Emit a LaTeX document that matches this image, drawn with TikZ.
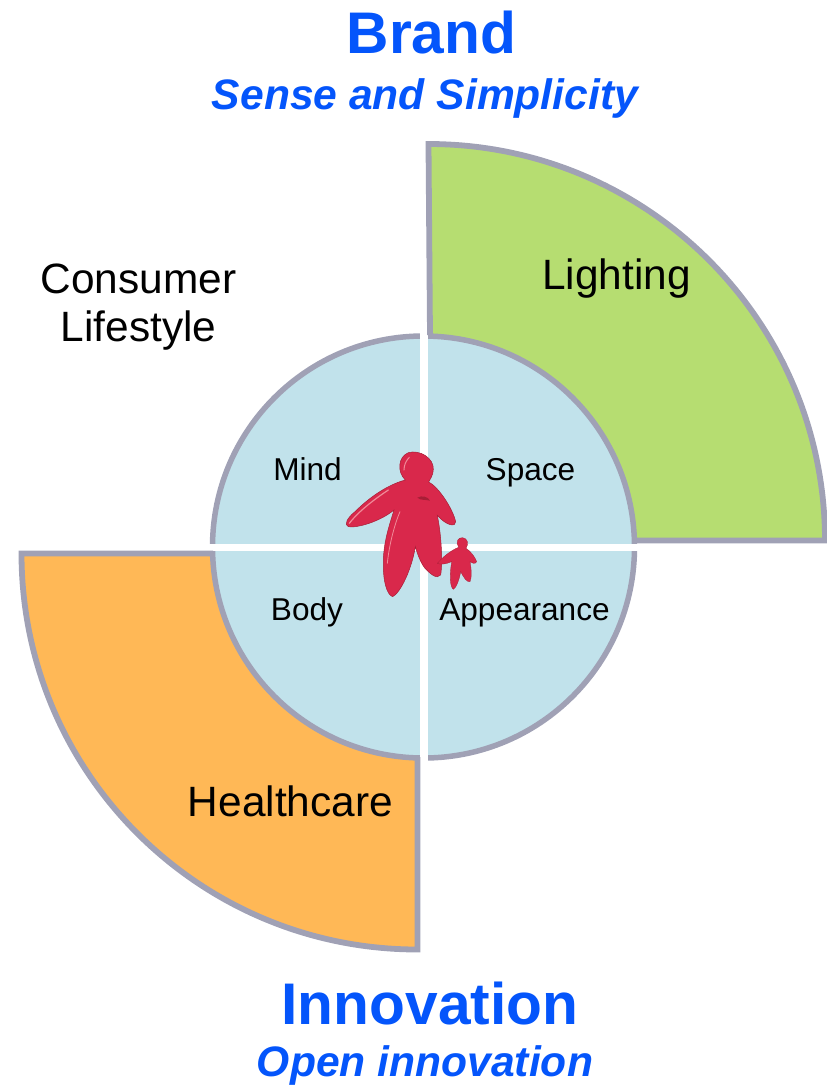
\documentclass[tikz,border=0pt]{standalone}
\usepackage{fontspec}
\setmainfont{Liberation Sans}
\definecolor{edgegrey}{HTML}{A0A1B5}
\definecolor{leafgreen}{HTML}{B6DD71}
\definecolor{warmorange}{HTML}{FFB856}
\definecolor{paleblue}{HTML}{C1E2EB}
\definecolor{titleblue}{HTML}{0455FB}
\definecolor{figred}{HTML}{D9284B}
\definecolor{figdark}{HTML}{A81E36}
\definecolor{figlight}{HTML}{F08A98}
\tikzset{
  sectoredge/.style={draw=edgegrey,line width=5.8pt,line join=miter},
  title/.style={anchor=base,text=titleblue,font=\bfseries\fontsize{58.7}{58}\selectfont},
  subtitle/.style={anchor=base,text=titleblue,font=\bfseries\itshape\fontsize{42.6}{42}\selectfont},
  biglabel/.style={anchor=base,align=center,font=\fontsize{42.4}{50}\selectfont},
  smalllabel/.style={anchor=base,font=\fontsize{31.6}{36}\selectfont},
}
\begin{document}
\begin{tikzpicture}[x=1pt,y=-1pt]
\useasboundingbox (0,0) rectangle (827,1085);
% sector fills (their inner parts are hidden by the disc)
\fill[leafgreen] (430,540.5) -- (428.5,144) arc[start angle=270,end angle=360,radius=396.5] -- cycle;
\fill[warmorange] (417.5,553.5) -- (417.5,949.5) arc[start angle=90,end angle=180,radius=396] -- cycle;
% central disc
\fill[paleblue] (423.5,547) circle[radius=212];
\draw[edgegrey,line width=5.5pt] (423.5,547) circle[radius=211];
% white cross
\fill[white] (205,543.5) rectangle (645,550.5);
\fill[white] (420,325) rectangle (427.5,770);
% sector outlines
\draw[sectoredge] (430,335) -- (428.5,144) arc[start angle=270,end angle=360,radius=396.5] -- (634,540.5);
\draw[sectoredge] (213,553.5) -- (21.5,553.5) arc[start angle=180,end angle=90,radius=396] -- (417.5,757);
% figures
\begin{scope}[shift={(330,430)},x=0.3333pt,y=-0.3333pt]
\fill[figred,draw=figdark,line width=0.5pt]
  (226,150) .. controls (200,125) and (205,80) .. (235,68)
  .. controls (270,58) and (312,85) .. (310,118)
  .. controls (310,135) and (300,148) .. (296,156)
  .. controls (325,170) and (368,235) .. (377,275)
  .. controls (378,292) and (350,288) .. (322,256)
  .. controls (335,320) and (338,400) .. (332,435)
  .. controls (320,450) and (300,430) .. (285,415)
  .. controls (270,395) and (262,370) .. (256,350)
  .. controls (245,420) and (210,490) .. (188,500)
  .. controls (170,495) and (158,450) .. (160,390)
  .. controls (162,330) and (180,280) .. (192,240)
  .. controls (150,275) and (80,295) .. (55,290)
  .. controls (42,285) and (50,265) .. (75,245)
  .. controls (115,205) and (170,165) .. (226,150) -- cycle;
\fill[figdark] (262,203) .. controls (275,195) and (295,200) .. (300,212)
  .. controls (285,208) and (272,212) .. (262,203) -- cycle;
\draw[figlight,line width=1pt,line cap=round] (222,120) .. controls (222,105) and (228,92) .. (238,82);
\draw[figlight,line width=1.2pt,line cap=round] (58,280) .. controls (85,245) and (130,210) .. (175,180);
\draw[figlight,line width=0.8pt,line cap=round] (172,400) .. controls (178,340) and (195,280) .. (210,245);
\fill[figred,draw=figdark,line width=0.3pt]
  (386,352) .. controls (375,335) and (385,322) .. (398,323)
  .. controls (412,325) and (418,340) .. (408,355)
  .. controls (420,362) and (435,380) .. (440,395)
  .. controls (435,405) and (425,398) .. (420,395)
  .. controls (425,420) and (425,445) .. (420,455)
  .. controls (410,458) and (400,440) .. (392,425)
  .. controls (388,450) and (378,475) .. (370,478)
  .. controls (360,470) and (358,440) .. (365,395)
  .. controls (350,402) and (330,405) .. (322,400)
  .. controls (335,385) and (360,362) .. (386,352) -- cycle;
\end{scope}
% labels
\node[title] (brand) at (431.5,53) {Brand};
\node[subtitle] (sense) at (425,109) {Sense and Simplicity};
\node[biglabel] (consumer) at (138.5,293) {Consumer};
\node[biglabel] (lifestyle) at (138.5,341) {Lifestyle};
\node[biglabel] (lighting) at (616.5,289) {Lighting};
\node[biglabel] (healthcare) at (290.5,816) {Healthcare};
\node[smalllabel] (mind) at (307.5,480) {Mind};
\node[smalllabel] (space) at (530.5,480) {Space};
\node[smalllabel] (body) at (307,620) {Body};
\node[smalllabel] (appearance) at (524.5,620) {Appearance};
\node[title] (innovation) at (430,1024) {Innovation};
\node[subtitle] (open) at (425,1076) {Open innovation};
\end{tikzpicture}
\end{document}
